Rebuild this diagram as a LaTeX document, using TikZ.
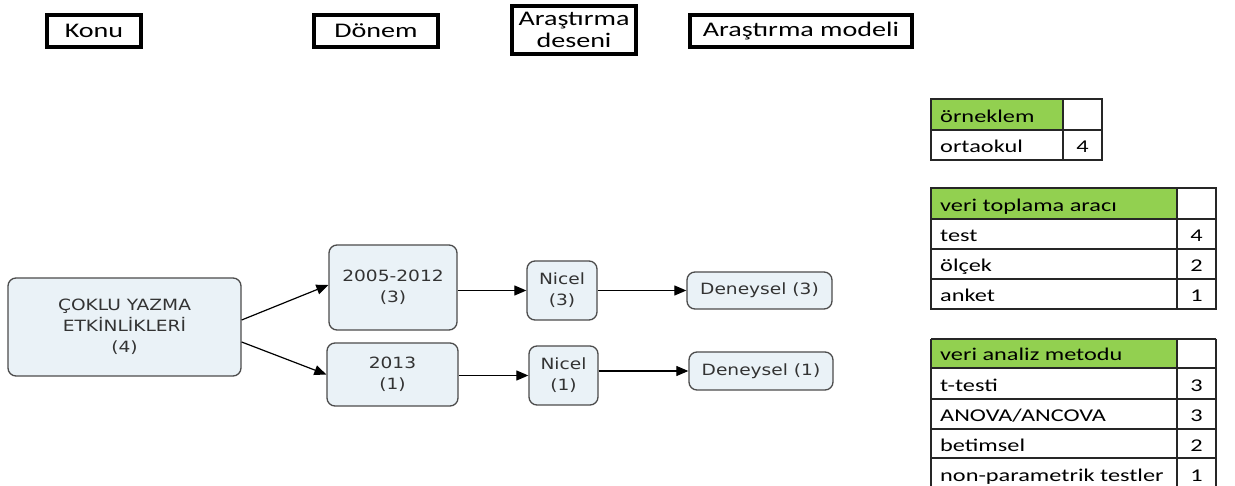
\documentclass[tikz,border=0pt]{standalone}
\usepackage{fontspec}
\setmainfont{Carlito}
\newfontfamily\hdrfont[FakeStretch=1.35]{Carlito}
\newfontfamily\flowfont[FakeStretch=1.2]{DejaVu Sans}
\usetikzlibrary{arrows.meta}
\definecolor{flowfill}{HTML}{EAF2F7}
\definecolor{tgreen}{HTML}{92D050}
\begin{document}
\begin{tikzpicture}[x=1pt,y=-1pt,
  hdr/.style={draw=black,line width=3.8pt,inner sep=0pt,align=center,font=\hdrfont\fontsize{20.8}{24}\selectfont},
  fbox/.style={draw=black!70,fill=flowfill,line width=1.3pt,rounded corners=8pt,inner sep=0pt,align=center,text=black!80,font=\flowfont\fontsize{15.5}{21}\selectfont},
  arr/.style={-{Triangle[length=12pt,width=10pt]},line width=1.2pt},
  tline/.style={draw=black!85,line width=1.3pt},
  ttext/.style={anchor=base west,inner sep=0pt,font=\hdrfont\fontsize{18}{20}\selectfont},
  tnum/.style={anchor=base,inner sep=0pt,font=\hdrfont\fontsize{18}{20}\selectfont}]
\fill[white] (0,0) rectangle (1235,486);
\useasboundingbox (0,0) rectangle (1235,486);

% headers
\node[hdr,minimum width=94.5pt,minimum height=32.5pt] (h1) at (94,31) {Konu};
\node[hdr,minimum width=124.5pt,minimum height=32.5pt] (h2) at (376,31) {Dönem};
\node[hdr,minimum width=124.5pt,minimum height=48.5pt] (h3) at (574,30) {Araştırma\\[-2pt]deseni};
\node[hdr,minimum width=222.5pt,minimum height=32.5pt] (h4) at (801,31) {Araştırma modeli};

% flow
\node[fbox,minimum width=233pt,minimum height=98pt] (cok) at (124.5,327) {ÇOKLU YAZMA\\ETKİNLİKLERİ\\(4)};
\node[fbox,minimum width=128pt,minimum height=85pt] (p1) at (393,287.5) {2005-2012\\(3)};
\node[fbox,minimum width=131pt,minimum height=63pt] (p2) at (392.5,374.5) {2013\\(1)};
\node[fbox,minimum width=70pt,minimum height=59pt] (n1) at (562,290.5) {Nicel\\(3)};
\node[fbox,minimum width=69pt,minimum height=59pt] (n2) at (563.5,375.5) {Nicel\\(1)};
\node[fbox,minimum width=145pt,minimum height=37pt] (d1) at (759.5,290.5) {Deneysel (3)};
\node[fbox,minimum width=144pt,minimum height=38pt] (d2) at (761,371) {Deneysel (1)};

\draw[arr] ([yshift=7pt]cok.east) -- ([yshift=2.5pt]p1.west);
\draw[arr] ([yshift=-15pt]cok.east) -- (p2.west);
\draw[arr] (p1.east |- n1.west) -- (n1.west);
\draw[arr] (n1.east) -- (d1.west);
\draw[arr] (p2.east |- n2.west) -- (n2.west);
\draw[arr] (n2.east |- d2.west) -- (d2.west);

% table 1
\fill[tgreen] (931,99) rectangle (1063,130);
\draw[tline] (931,99) rectangle (1102,160);
\draw[tline] (931,130) -- (1102,130);
\draw[tline] (1063,99) -- (1063,160);
\node[ttext] (t1a) at (940,122.5) {örneklem};
\node[ttext] (t1b) at (940,152.5) {ortaokul};
\node[tnum] (t1c) at (1082.5,152.5) {4};

% table 2
\fill[tgreen] (931,188) rectangle (1177,219);
\draw[tline] (931,188) rectangle (1216,309);
\draw[tline] (931,219) -- (1216,219);
\draw[tline] (931,249) -- (1216,249);
\draw[tline] (931,279) -- (1216,279);
\draw[tline] (1177,188) -- (1177,309);
\node[ttext] (t2a) at (940,211.5) {veri toplama aracı};
\node[ttext] (t2b) at (940,241.5) {test};
\node[ttext] (t2c) at (940,271.5) {ölçek};
\node[ttext] (t2d) at (940,301.5) {anket};
\node[tnum] (t2e) at (1196.5,241.5) {4};
\node[tnum] (t2f) at (1196.5,271.5) {2};
\node[tnum] (t2g) at (1196.5,301.5) {1};

% table 3
\fill[tgreen] (931,339) rectangle (1177,368);
\draw[tline] (931,339) -- (1216,339);
\draw[tline] (931,368) -- (1216,368);
\draw[tline] (931,399) -- (1216,399);
\draw[tline] (931,429) -- (1216,429);
\draw[tline] (931,458) -- (1216,458);
\draw[tline] (931,339) -- (931,486);
\draw[tline] (1177,339) -- (1177,486);
\draw[tline] (1216,339) -- (1216,486);
\node[ttext] (t3a) at (940,361) {veri analiz metodu};
\node[ttext] (t3b) at (940,391.5) {t-testi};
\node[ttext] (t3c) at (940,421.5) {ANOVA/ANCOVA};
\node[ttext] (t3d) at (940,451) {betimsel};
\node[ttext] (t3e) at (940,481) {non-parametrik testler};
\node[tnum] (t3f) at (1196.5,391.5) {3};
\node[tnum] (t3g) at (1196.5,421.5) {3};
\node[tnum] (t3h) at (1196.5,451) {2};
\node[tnum] (t3i) at (1196.5,481) {1};
\end{tikzpicture}
\end{document}
